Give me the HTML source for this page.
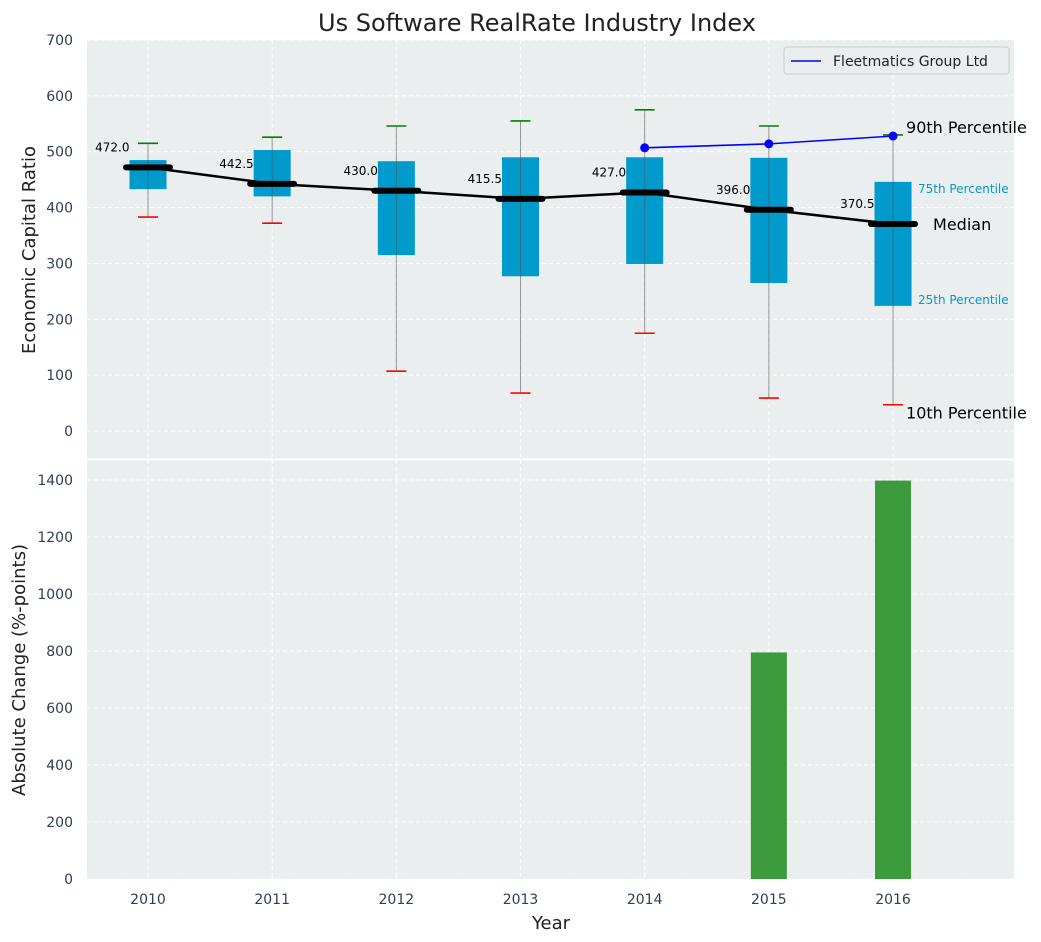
<!DOCTYPE html>
<html><head><meta charset="utf-8"><style>
body{margin:0;background:#fff;font-family:"Liberation Sans","DejaVu Sans",sans-serif}
svg{display:block}
</style></head><body>
<svg id="chart" width="1041" height="942" xmlns="http://www.w3.org/2000/svg" font-family="DejaVu Sans, Liberation Sans, sans-serif"></svg>
<script>
const years=[2010,2011,2012,2013,2014,2015,2016];
const q1=[433,420,315,277,299,265,224];
const q3=[485,503,483,490,490,489,446];
const p10=[383,372,107,68,175,59,47];
const p90=[515,526,546,555,575,546,530];
const med=[472.0,442.5,430.0,415.5,427.0,396.0,370.5];
const fleetYears=[2014,2015,2016];
const fleetVals=[507,514,528];
const changeYears=[2015,2016];
const changeVals=[795,1398];
const topTicks=[0,100,200,300,400,500,600,700];
const botTicks=[0,200,400,600,800,1000,1200,1400];

const svg=document.getElementById('chart');
const NS='http://www.w3.org/2000/svg';
function mk(tag,attrs,parent,txt){const e=document.createElementNS(NS,tag);for(const k in attrs)e.setAttribute(k,attrs[k]);if(txt!==undefined)e.textContent=txt;(parent||svg).appendChild(e);return e;}
const L=87,R=1014;
const x=v=>148+(v-2010)*124.17;
const yT=v=>431-v*0.5586;
const yB=v=>879-v*0.285;

let e;
e=mk('rect',{x:L,y:40,width:R-L,height:419,fill:'#eaeeee'});


e=mk('rect',{x:L,y:460,width:R-L,height:419,fill:'#eaeeee'});



years.forEach(yr=>{
 mk('line',{x1:x(yr),x2:x(yr),y1:40,y2:459,stroke:'#fff','stroke-dasharray':'4,3','stroke-width':1});
 mk('line',{x1:x(yr),x2:x(yr),y1:460,y2:879,stroke:'#fff','stroke-dasharray':'4,3','stroke-width':1});
 e=mk('text',{x:x(yr),y:904,'text-anchor':'middle','font-size':14,fill:'#2e3f55'},svg,yr);
 
 
});
topTicks.forEach(t=>{
 mk('line',{x1:L,x2:R,y1:yT(t),y2:yT(t),stroke:'#fff','stroke-dasharray':'4,3'});
 e=mk('text',{x:73,y:yT(t)+5,'text-anchor':'end','font-size':14,fill:'#2e3f55'},svg,t);
 
 
});
botTicks.forEach(t=>{
 mk('line',{x1:L,x2:R,y1:yB(t),y2:yB(t),stroke:'#fff','stroke-dasharray':'4,3'});
 e=mk('text',{x:73,y:yB(t)+5,'text-anchor':'end','font-size':14,fill:'#2e3f55'},svg,t);
 
 
});
mk('line',{x1:L,x2:R,y1:459.5,y2:459.5,stroke:'#fff','stroke-width':2});

const bw=37;
years.forEach((yr,i)=>{
 const cx=x(yr);
 e=mk('rect',{x:cx-bw/2,y:yT(q3[i]),width:bw,height:yT(q1[i])-yT(q3[i]),fill:'#009acd'});
 
 
 e=mk('line',{x1:cx,x2:cx,y1:yT(p90[i]),y2:yT(p10[i]),stroke:'#555','stroke-opacity':0.6,'stroke-width':1});
 
 
 e=mk('line',{x1:cx-10,x2:cx+10,y1:yT(p90[i]),y2:yT(p90[i]),stroke:'green','stroke-width':1.6});
 
 
 e=mk('line',{x1:cx-10,x2:cx+10,y1:yT(p10[i]),y2:yT(p10[i]),stroke:'red','stroke-width':1.6});
 
 
});
e=mk('polyline',{points:years.map((yr,i)=>x(yr)+','+yT(med[i])).join(' '),fill:'none',stroke:'#000','stroke-width':2.5});


years.forEach((yr,i)=>{
 const cx=x(yr);
 e=mk('line',{x1:cx-22,x2:cx+22,y1:yT(med[i]),y2:yT(med[i]),stroke:'#000','stroke-width':6,'stroke-linecap':'round'});
 
 
 e=mk('text',{x:cx-bw/2,y:yT(med[i])-16,'text-anchor':'end','font-size':12,fill:'#000'},svg,med[i].toFixed(1));
 
 
});
e=mk('polyline',{points:fleetYears.map((yr,i)=>x(yr)+','+yT(fleetVals[i])).join(' '),fill:'none',stroke:'blue','stroke-width':1.6});


fleetYears.forEach((yr,i)=>{
 e=mk('circle',{cx:x(yr),cy:yT(fleetVals[i]),r:4.5,fill:'blue'});
 
 
});
const last=years.length-1,lx=x(years[last]);
[[lx+13,yT(p90[last])-2,'90th Percentile',16,'#000'],[lx+25,yT(q3[last])+11,'75th Percentile',12,'#009acd'],
 [lx+40,yT(med[last])+6,'Median',16,'#000'],[lx+25,yT(q1[last])-2,'25th Percentile',12,'#009acd'],
 [lx+13,yT(p10[last])+14,'10th Percentile',16,'#000']].forEach(a=>{
 e=mk('text',{x:a[0],y:a[1],'font-size':a[3],fill:a[4]},svg,a[2]);
 
 
});
const lg=mk('g',{});


mk('rect',{x:784,y:47,width:225,height:27,rx:3,fill:'#eaeeee',stroke:'#ccc'},lg);
mk('line',{x1:791,x2:821,y1:61,y2:61,stroke:'blue','stroke-width':1.6},lg);
e=mk('text',{x:833,y:66,'font-size':14,fill:'#222'},lg,'Fleetmatics Group Ltd');


changeYears.forEach((yr,i)=>{
 e=mk('rect',{x:x(yr)-18,y:yB(changeVals[i]),width:36,height:879-yB(changeVals[i]),fill:'#3a9a3c'});
 
 
});
e=mk('text',{x:537,y:31,'text-anchor':'middle','font-size':24,fill:'#222'},svg,'Us Software RealRate Industry Index');


e=mk('text',{x:551,y:929,'text-anchor':'middle','font-size':18,fill:'#222'},svg,'Year');


e=mk('text',{x:0,y:0,'text-anchor':'middle','font-size':18,fill:'#222',transform:'translate(35,250) rotate(-90)'},svg,'Economic Capital Ratio');


e=mk('text',{x:0,y:0,'text-anchor':'middle','font-size':18,fill:'#222',transform:'translate(25,670) rotate(-90)'},svg,'Absolute Change (%-points)');


</script>
</body></html>
